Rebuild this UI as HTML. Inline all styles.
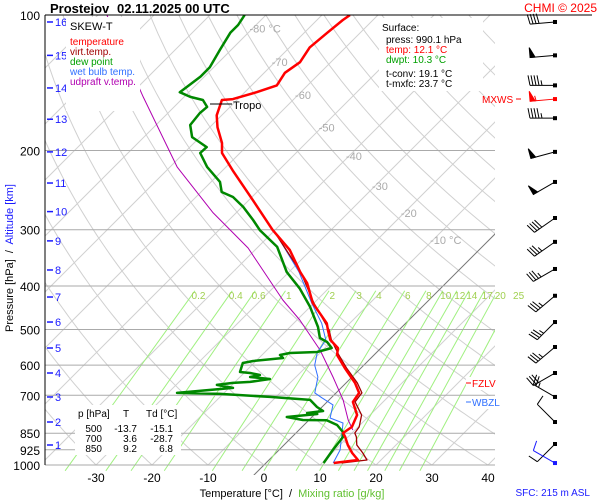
<!DOCTYPE html>
<html><head><meta charset="utf-8">
<style>
html,body{margin:0;padding:0;background:#fff;}
svg{display:block;font-family:"Liberation Sans",sans-serif;}
</style></head>
<body>
<svg id="chart" width="600" height="500" viewBox="0 0 600 500" xmlns="http://www.w3.org/2000/svg">
<defs><clipPath id="plotclip"><rect x="45" y="15" width="450" height="450"/></clipPath>
<clipPath id="mrclip"><rect x="45" y="15" width="450" height="460"/></clipPath></defs>
<rect x="0" y="0" width="600" height="500" fill="#fff"/>
<g id="grid" clip-path="url(#plotclip)"></g>
<g id="mixgrid" clip-path="url(#mrclip)"></g>
<g id="plines"></g>
<g id="series" clip-path="url(#plotclip)"></g>
<g id="labels"></g>
<g id="winds"></g>

<text y="13" font-size="13" font-weight="bold"><tspan x="50">Prostejov</tspan><tspan x="117">02.11.2025 00 UTC</tspan></text>
<text x="597" y="12" font-size="12" fill="#f00" text-anchor="end">CHMI © 2025</text>
<line x1="45" y1="15" x2="592" y2="15" stroke="#000" stroke-width="1"/>
<line x1="45" y1="15" x2="45" y2="465" stroke="#000" stroke-width="1"/>

<g>
<rect x="66" y="17" width="74" height="94" fill="#fff"/>
<text x="70" y="30" font-size="11" fill="#000">SKEW-T</text>
<text x="70" y="45" font-size="10" fill="#f00">temperature</text>
<text x="70" y="55" font-size="10" fill="#a00000">virt.temp.</text>
<text x="70" y="65" font-size="10" fill="#00a000">dew point</text>
<text x="70" y="75" font-size="10" fill="#3070ff">wet bulb temp.</text>
<text x="70" y="85" font-size="10" fill="#b000b0">udpraft v.temp.</text>
</g>

<g>
<rect x="379" y="18" width="104" height="73" fill="#fff"/>
<text x="382" y="31" font-size="10">Surface:</text>
<text x="386" y="43" font-size="10">press: 990.1 hPa</text>
<text x="386" y="53" font-size="10" fill="#f00">temp: 12.1 °C</text>
<text x="386" y="63" font-size="10" fill="#00a000">dwpt: 10.3 °C</text>
<text x="386" y="77" font-size="10">t-conv: 19.1 °C</text>
<text x="386" y="87" font-size="10">t-mxfc: 23.7 °C</text>
</g>

<g>
<rect x="75" y="405" width="106" height="50" fill="#fff"/>
<text x="78" y="417" font-size="10">p [hPa]</text>
<text x="123" y="417" font-size="10">T</text>
<text x="146" y="417" font-size="10">Td [°C]</text>
<text x="102" y="432" font-size="10" text-anchor="end">500</text>
<text x="137" y="432" font-size="10" text-anchor="end">-13.7</text>
<text x="173" y="432" font-size="10" text-anchor="end">-15.1</text>
<text x="102" y="442" font-size="10" text-anchor="end">700</text>
<text x="137" y="442" font-size="10" text-anchor="end">3.6</text>
<text x="173" y="442" font-size="10" text-anchor="end">-28.7</text>
<text x="102" y="452" font-size="10" text-anchor="end">850</text>
<text x="137" y="452" font-size="10" text-anchor="end">9.2</text>
<text x="173" y="452" font-size="10" text-anchor="end">6.8</text>
</g>

<g>
<rect x="466" y="377" width="42" height="13" fill="#fff"/>
<line x1="466" y1="383" x2="471" y2="383" stroke="#f00"/>
<text x="472" y="387" font-size="10" fill="#f00">FZLV</text>
</g>
<g>
<rect x="466" y="396" width="38" height="13" fill="#fff"/>
<line x1="466" y1="402" x2="471" y2="402" stroke="#3070ff"/>
<text x="472" y="406" font-size="10" fill="#3070ff">WBZL</text>
</g>
<g>
<text x="482" y="103" font-size="10" fill="#f00">MXWS</text>
<line x1="516" y1="99" x2="521" y2="99" stroke="#f00"/>
</g>

<text x="0" y="0" font-size="11" transform="translate(13,258) rotate(-90)" text-anchor="middle"><tspan fill="#000">Pressure [hPa]</tspan><tspan fill="#000" xml:space="preserve">  /  </tspan><tspan fill="#1a1aff">Altitude [km]</tspan></text>
<text x="292" y="497" font-size="11" text-anchor="middle"><tspan fill="#000">Temperature [°C]</tspan><tspan fill="#000" xml:space="preserve">  /  </tspan><tspan fill="#60c030">Mixing ratio [g/kg]</tspan></text>
<text x="590" y="496" font-size="10" fill="#1a1aff" text-anchor="end">SFC: 215 m ASL</text>

<script>
// ---- data ----
const pressureTicks = [100,200,300,400,500,600,700,850,925,1000];
const tempTicks = [-30,-20,-10,0,10,20,30,40];
const isothermLabels = [-80,-70,-60,-50,-40,-30,-20,-10];
const isothermLabelP = [107.1,127.3,150.5,177.6,205.7,239.9,275.5,316];
const mixRatios = [0.2,0.4,0.6,1,2,3,4,6,8,10,12,14,17,20,25];
const altKm = [16,15,14,13,12,11,10,9,8,7,6,5,4,3,2,1];
const altP = [103.6,122.9,145.2,170.4,201.4,236.2,273.4,317.6,368.6,423.3,481.1,549.5,624.5,706,802.5,902.7];

const tempP = [990,974.7,940.4,902.7,866.5,848.8,823,774.2,724,691.4,657,608.6,569.4,549.5,527.3,501,484.2,436.6,394,372.5,332.7,300.5,257.8,221.4,202.6,192.5,177.6,167,154.4,153.7,148.4,143.3,134.4,127.3,118,109.5,102.6,100];
const tempT = [12.1,15.9,13.6,11.4,9.5,8.4,8.9,7.7,4.6,4.1,1.6,-2.9,-6.6,-7.7,-10.5,-12.7,-14.1,-20.2,-24.8,-28.0,-33.8,-40.4,-49.3,-58.2,-63.2,-65.0,-68.6,-70.9,-72.7,-70.9,-67.9,-65.5,-66.3,-65.5,-66.4,-65.9,-65.4,-65];

const virtP = [990,974.7,940.4,902.7,866.5,848.8,823,774.2,724,691.4,657,608.6,569.4,527.3,501,436.6,372.5,300.5];
const virtT = [13.5,17.5,15.5,13.0,11.5,10.5,10.2,8.5,5.0,4.6,2.0,-2.6,-6.3,-10.3,-12.5,-20.0,-27.9,-40.3];

const dewP = [990,926.1,866.5,844.5,814.8,795,794.2,782.1,770.2,766.2,758.4,743,716.6,705.8,695,691.5,674,663.8,657.1,653.7,643.9,637.3,630.9,624.5,621.3,593.3,587.2,578.2,569.4,563.7,560.8,549.5,532.9,522,493.6,445.2,404.8,372.5,327.5,300.5,285.4,266.9,253.7,247.3,234.9,217.5,202.6,196.5,186.7,175.5,165,160,154.4,152,148.4,141.9,137,130.6,119.5,109.5,105.2,100];
const dewT = [10.3,9.6,9.1,8.2,5.9,3.2,-1.1,-4.5,0.4,-1.6,0.9,-0.9,-3.4,-11.1,-20.5,-28.4,-19.3,-22.7,-20.2,-17.3,-14.3,-18.2,-16.8,-18.9,-20.9,-22.0,-20.5,-15.7,-16.8,-15.4,-10.7,-8.8,-10.7,-12.7,-15.0,-20.0,-25.2,-30.4,-36.6,-42.7,-45.7,-49.8,-53.4,-56.3,-58.4,-63.4,-67.1,-67.0,-71.4,-73.9,-74.3,-74.1,-76.1,-78.9,-81.6,-81.1,-80.7,-80.7,-82.0,-83.2,-83.2,-83.8];

const wetP = [990,926,848.8,806.6,786.1,735.4,709.4,691.5,637.3,599.6,563.7,527.3,484.2,436.6,372.5,300.5];
const wetT = [12.0,10.9,8.2,6.6,3.4,1.6,-1.6,-3.8,-6.1,-8.8,-10.5,-11.3,-15.0,-20.4,-28.2,-40.2];

const parcelP = [836,794.3,716.6,637.3,555.5,476.1,429.8,329.3,275.2,217.5,152,100];
const parcelT = [9.6,7.0,2.5,-3.4,-10.5,-19.5,-26.1,-41.6,-54.1,-68.75,-87.3,-108.4];

const windP = [103.6,122.9,143.3,153.7,169.5,201.4,234.9,282.5,319.2,366.7,420.6,481.1,546.7,624.5,705.9,802.5,898.1,990];
const windDir = [265,265,270,265,270,255,240,235,235,240,230,225,230,240,300,315,225,300];
const windSpd = [40,50,45,55,45,50,50,40,35,35,35,35,35,30,25,10,10,10];
const windMax = [0,0,0,1,0,0,0,0,0,0,0,0,0,0,0,0,0,0];

// ---- axes ----
const NS='http://www.w3.org/2000/svg';
function yP(p){return 465-195.4*Math.log(1000/p);}
function xT(T,p){return 264+5.6*T+(465-yP(p));}
function mk(tag,attrs,parent){const e=document.createElementNS(NS,tag);for(const k in attrs)e.setAttribute(k,attrs[k]);parent.appendChild(e);return e;}
const grid=document.getElementById('grid'),mix=document.getElementById('mixgrid'),pl=document.getElementById('plines'),ser=document.getElementById('series'),lab=document.getElementById('labels'),win=document.getElementById('winds');

// isotherms
for(let T=-160;T<=50;T+=10){
  const l=mk('line',{x1:xT(T,1060),y1:yP(1060),x2:xT(T,95),y2:yP(95),stroke:T===0?'#777':'#d0d0d0','stroke-width':1},T===0?mix:grid);
  
  
}
// dry adiabats
for(let th=-40;th<=220;th+=10){
  let d='';
  for(let p=1050;p>=95;p-=10){const T=(th+273.15)*Math.pow(p/1000,0.286)-273.15;d+=(d?'L':'M')+xT(T,p).toFixed(1)+','+yP(p).toFixed(1);}
  const a=mk('path',{d:d,fill:'none',stroke:'#d0d0d0','stroke-width':1},grid);
  
  
}
// mixing ratio
function tdFromW(w,p){const e=w*p/(622+w);const L=Math.log(e/6.112);return 243.5*L/(17.67-L);}
mixRatios.forEach(w=>{
  const m=mk('line',{x1:xT(tdFromW(w,1030),1030),y1:yP(1030),x2:xT(tdFromW(w,410),410),y2:yP(410),stroke:'#a0f080','stroke-width':1},mix);
  
  
  const t=mk('text',{x:xT(tdFromW(w,400),400),y:yP(400)+13,'font-size':10,fill:'#a0d050','text-anchor':'middle'},lab);
  t.textContent=String(w);
  
  
});
// pressure lines & labels
pressureTicks.forEach(p=>{
  if(p!==100){const l=mk('line',{x1:45,y1:yP(p),x2:495,y2:yP(p),stroke:'#aaa','stroke-width':1},pl);
  
  }
  const t=mk('text',{x:40,y:yP(p)+5,'font-size':12,'text-anchor':'end'},lab);
  t.textContent=String(p);
  
  
});
tempTicks.forEach(T=>{
  const t=mk('text',{x:xT(T,1000),y:482,'font-size':12,'text-anchor':'middle'},lab);
  t.textContent=String(T);
  
  
});
isothermLabels.forEach((T,i)=>{
  const p=isothermLabelP[i];
  const t=mk('text',{x:xT(T,p)-3,y:yP(p)+4,'font-size':11,fill:'#aaa'},lab);
  t.textContent=(i===0||i===isothermLabels.length-1)?T+' °C':String(T);
  
  
});
altKm.forEach((k,i)=>{
  const y=yP(altP[i]);
  const l=mk('line',{x1:47,y1:y,x2:53,y2:y,stroke:'#1a1aff','stroke-width':1.5},lab);
  
  
  const t=mk('text',{x:55,y:y+4,'font-size':11,fill:'#1a1aff'},lab);
  t.textContent=String(k);
  
  
});
// series
function line(P,T,color,w,name){
  let d='';P.forEach((p,i)=>{d+=(i?'L':'M')+xT(T[i],p).toFixed(1)+','+yP(p).toFixed(1);});
  const e=mk('path',{d:d,fill:'none',stroke:color,'stroke-width':w,'stroke-linejoin':'round'},ser);
  
  
}
line(parcelP,parcelT,'#b000b0',1,'updraft-line');
line(wetP,wetT,'#3070ff',1,'wet-bulb-line');
line(virtP,virtT,'#a00000',1.3,'virtual-temp-line');
line(dewP,dewT,'#008800',2.5,'dewpoint-line');
line(tempP,tempT,'#ff0000',2.5,'temperature-line');
// tropopause
const tl=mk('line',{x1:210,y1:104,x2:232,y2:104,stroke:'#000','stroke-width':1},lab);


const tt=mk('text',{x:233,y:109,'font-size':11},lab);
tt.textContent='Tropo';


// wind barbs
windP.forEach((p,i)=>{
  const y=yP(p),x0=555,L=25,col=windMax[i]?'#f00':(i===windP.length-1?'#1a1aff':'#000');
  const r=windDir[i]*Math.PI/180,sx=Math.sin(r),sy=-Math.cos(r);
  const fx=-sy,fy=sx;
  const g=mk('g',{stroke:col,fill:col,'stroke-width':1},win);
  
  
  mk('line',{x1:x0,y1:y,x2:x0+sx*L,y2:y+sy*L},g);
  mk('rect',{x:x0-2,y:y-2,width:4,height:4,stroke:'none'},g);
  let s=windSpd[i],pos=L;
  while(s>=50){const ax=x0+sx*pos,ay=y+sy*pos,bx=x0+sx*(pos-5),by=y+sy*(pos-5);
    mk('polygon',{points:`${ax},${ay} ${bx},${by} ${ax+fx*10},${ay+fy*10}`},g);pos-=6;s-=50;}
  while(s>=10){const ax=x0+sx*pos,ay=y+sy*pos;mk('line',{x1:ax,y1:ay,x2:ax+fx*10+sx*2,y2:ay+fy*10+sy*2},g);pos-=3;s-=10;}
  if(s>=5){const ax=x0+sx*pos,ay=y+sy*pos;mk('line',{x1:ax,y1:ay,x2:ax+fx*5+sx*1,y2:ay+fy*5+sy*1},g);}
});
</script>
</svg>
</body></html>
